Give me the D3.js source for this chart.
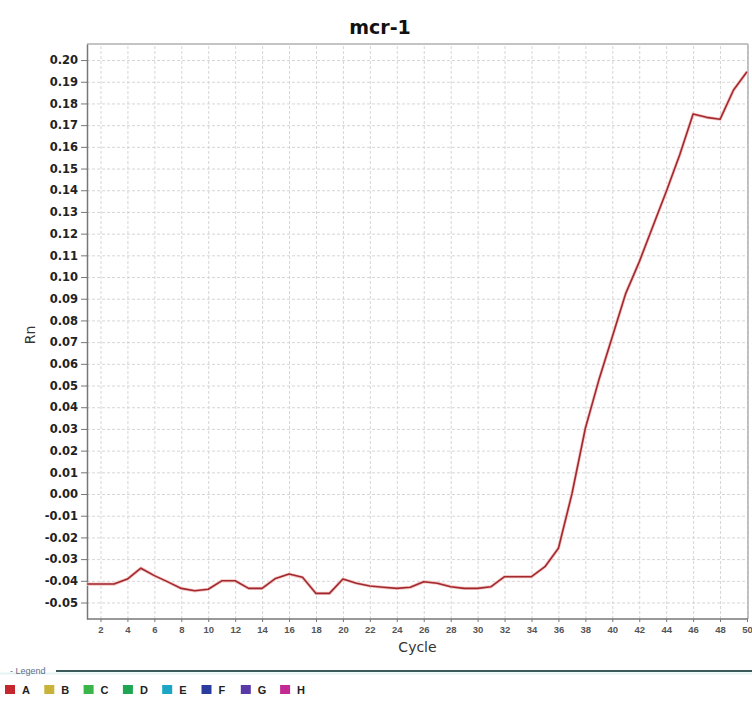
<!DOCTYPE html>
<html>
  <head>
    <meta charset="UTF-8">
    <title>mcr-1</title>
    <script src="https://cdn.jsdelivr.net/npm/d3@7/dist/d3.min.js"></script>
    <style>
      body { margin: 0; background: #fff; }
      svg { display: block; }
      .grid line { stroke: #d6d6d6; stroke-dasharray: 3,2; }
      .grid path { display: none; }
    </style>
  </head>
  <body>
    <svg width="752" height="709"></svg>
  <script>

    // amplification curve, well A
    var cycles = [1, 2, 3, 4, 5, 6, 7, 8, 9, 10,
                  11, 12, 13, 14, 15, 16, 17, 18, 19, 20,
                  21, 22, 23, 24, 25, 26, 27, 28, 29, 30,
                  31, 32, 33, 34, 35, 36, 37, 38, 39, 40,
                  41, 42, 43, 44, 45, 46, 47, 48, 49, 50];
    var rn = [-0.0415, -0.0415, -0.0415, -0.0392, -0.0342, -0.0376, -0.0405, -0.0435, -0.0446, -0.0439,
              -0.0400, -0.0400, -0.0435, -0.0435, -0.0389, -0.0369, -0.0384, -0.0458, -0.0458, -0.0392,
              -0.0411, -0.0424, -0.0430, -0.0435, -0.0430, -0.0404, -0.0411, -0.0427, -0.0435, -0.0435,
              -0.0427, -0.0381, -0.0381, -0.0381, -0.0335, -0.0250, 0.0000, 0.0303, 0.0525, 0.0725,
              0.0925, 0.1070, 0.1232, 0.1393, 0.1562, 0.1751, 0.1736, 0.1727, 0.1862, 0.1946];

    var xTicks = [2, 4, 6, 8, 10, 12, 14, 16, 18, 20, 22, 24, 26, 28, 30, 32, 34, 36, 38, 40, 42, 44, 46, 48, 50];
    var yTicks = [-0.05, -0.04, -0.03, -0.02, -0.01, 0.00, 0.01, 0.02, 0.03, 0.04, 0.05, 0.06, 0.07,
                  0.08, 0.09, 0.10, 0.11, 0.12, 0.13, 0.14, 0.15, 0.16, 0.17, 0.18, 0.19, 0.20];

    var legendKeys = ["A", "B", "C", "D", "E", "F", "G", "H"];
    var legendColors = ["#c4282e", "#c8b23a", "#3bb54a", "#1ea653", "#1aa6c4", "#2b3c9e", "#5a3aa6", "#c42a92"];

    var svg = d3.select("svg");
    var pLeft = 87, pRight = 748, pTop = 44, pBottom = 619;

    var x = d3.scaleLinear().domain([1, 50]).range([pLeft, 747]);
    var y = d3.scaleLinear().domain([-0.0576, 0.2074]).range([pBottom, pTop]);

    var fmt = function(d) { return d3.format(".2f")(d).replace("\u2212", "-"); };

    // grid
    svg.append("g")
      .attr("class", "grid")
      .attr("transform", "translate(" + pLeft + ",0)")
      .call(d3.axisLeft(y).tickValues(yTicks).tickSize(-(pRight - pLeft)).tickFormat(""));

    svg.append("g")
      .attr("class", "grid")
      .attr("transform", "translate(0," + pBottom + ")")
      .call(d3.axisBottom(x).tickValues(xTicks).tickSize(-(pBottom - pTop)).tickFormat(""));

    // frame
    svg.append("line").attr("x1", pLeft).attr("x2", pRight).attr("y1", pTop).attr("y2", pTop)
      .attr("stroke", "#b0b0b0").attr("stroke-width", 1.5);
    svg.append("line").attr("x1", pRight).attr("x2", pRight).attr("y1", pTop).attr("y2", pBottom)
      .attr("stroke", "#b0b0b0").attr("stroke-width", 1.5);

    // axes
    var yAxis = svg.append("g")
      .attr("transform", "translate(" + pLeft + ",0)")
      .call(d3.axisLeft(y).tickValues(yTicks).tickSize(6).tickSizeOuter(0).tickPadding(3).tickFormat(fmt));
    yAxis.select(".domain").attr("stroke", "#777").attr("stroke-width", 1.5);
    yAxis.selectAll(".tick line").attr("stroke", "#777");
    yAxis.selectAll("text")
      .attr("fill", "#222")
      .style("font-family", "'DejaVu Sans', sans-serif")
      .style("font-weight", "bold")
      .style("font-size", "11.5px");

    var xAxis = svg.append("g")
      .attr("transform", "translate(0," + pBottom + ")")
      .call(d3.axisBottom(x).tickValues(xTicks).tickSize(3).tickSizeOuter(0).tickPadding(4));
    xAxis.select(".domain").attr("stroke", "#777").attr("stroke-width", 1.5)
      .attr("d", "M" + pLeft + ",0H" + pRight);
    xAxis.selectAll(".tick line").attr("stroke", "#777");
    xAxis.selectAll("text")
      .attr("fill", "#555")
      .style("font-family", "'Liberation Sans', Arial, sans-serif")
      .style("font-weight", "bold")
      .style("font-size", "9.5px");

    // curve
    var line = d3.line()
      .x(function(d, i) { return x(cycles[i]); })
      .y(function(d) { return y(d); });

    svg.append("path")
      .datum(rn)
      .attr("fill", "none")
      .attr("stroke", "#f4c4c4")
      .attr("stroke-width", 3.2)
      .attr("d", line);

    svg.append("path")
      .datum(rn)
      .attr("fill", "none")
      .attr("stroke", "#a2292d")
      .attr("stroke-width", 1.6)
      .attr("stroke-linejoin", "round")
      .attr("d", line);

    // labels
    svg.append("text")
      .attr("x", 380).attr("y", 34)
      .attr("text-anchor", "middle")
      .style("font-family", "'DejaVu Sans', sans-serif")
      .style("font-weight", "bold")
      .style("font-size", "19px")
      .attr("fill", "#111")
      .text("mcr-1");

    svg.append("text")
      .attr("x", (pLeft + pRight) / 2).attr("y", 652)
      .attr("text-anchor", "middle")
      .style("font-family", "'DejaVu Sans', sans-serif")
      .style("font-size", "14px")
      .attr("fill", "#333")
      .text("Cycle");

    svg.append("text")
      .attr("transform", "translate(35,335) rotate(-90)")
      .attr("text-anchor", "middle")
      .style("font-family", "'DejaVu Sans', sans-serif")
      .style("font-size", "14px")
      .attr("fill", "#333")
      .text("Rn");

    // legend
    svg.append("line").attr("x1", 56).attr("x2", 752).attr("y1", 671).attr("y2", 671)
      .attr("stroke", "#3d5a5a").attr("stroke-width", 2);
    svg.append("line").attr("x1", 0).attr("x2", 752).attr("y1", 673.5).attr("y2", 673.5)
      .attr("stroke", "#e3f3f3").attr("stroke-width", 2);
    svg.append("text")
      .attr("x", 10).attr("y", 674)
      .style("font-family", "'Liberation Sans', Arial, sans-serif")
      .style("font-size", "9px")
      .attr("fill", "#5a6f8a")
      .text("-  Legend");

    var item = svg.append("g").selectAll("g")
      .data(legendKeys)
      .enter().append("g")
      .attr("transform", function(d, i) { return "translate(" + (5 + i * 39.3) + ",685)"; });

    item.append("rect")
      .attr("width", 10).attr("height", 9)
      .attr("fill", function(d, i) { return legendColors[i]; });

    item.append("text")
      .attr("x", 17).attr("y", 8.5)
      .style("font-family", "'Liberation Sans', Arial, sans-serif")
      .style("font-weight", "bold")
      .style("font-size", "11px")
      .attr("fill", "#222")
      .text(function(d) { return d; });

  </script>
  </body>
</html>
